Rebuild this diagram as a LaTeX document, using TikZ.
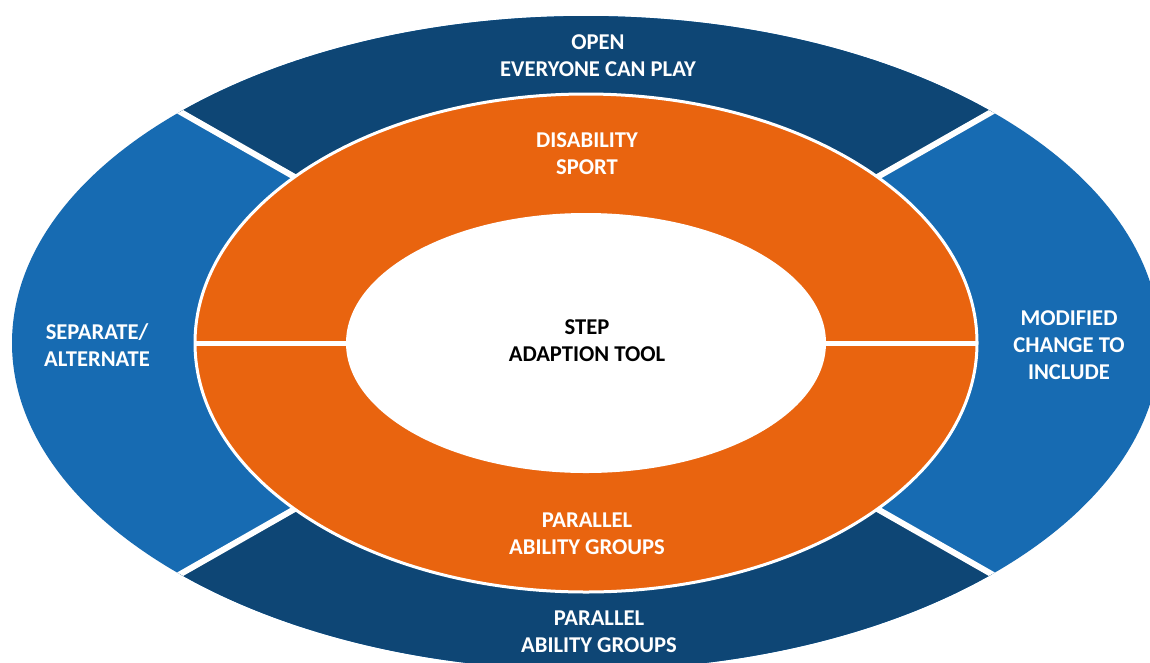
\documentclass[tikz,border=0pt]{standalone}
\usepackage{fontspec}
\setmainfont{Carlito}
\definecolor{ringdark}{HTML}{0E4675}
\definecolor{ringmid}{HTML}{176BB2}
\definecolor{ringorange}{HTML}{E9640F}
\tikzset{
  lbl/.style={align=center, inner sep=0pt, text=white,
              font=\bfseries\fontsize{22.6}{26.8}\selectfont},
  lbldark/.style={lbl, text=black},
  gap/.style={draw=white, line width=6pt},
}
\begin{document}
\begin{tikzpicture}[x=1pt,y=-1pt]
  \clip (0,0) rectangle (1150,662);
  \fill[white] (0,0) rectangle (1150,662);
  \coordinate (c) at (586,343);
  % outer ring: side segments
  \fill[ringmid] (c) ellipse [x radius=574pt, y radius=327pt];
  % top and bottom segments
  \begin{scope}
    \clip (c) ellipse [x radius=574pt, y radius=327pt];
    \fill[ringdark] (c) -- (-246,-131) -- (1418,-131) -- cycle;
    \fill[ringdark] (c) -- (-246,817) -- (1418,817) -- cycle;
    \draw[gap] (-246,-131) -- (1418,817);
    \draw[gap] (1418,-131) -- (-246,817);
  \end{scope}
  % middle ring, split into upper and lower halves
  \fill[ringorange] (c) ellipse [x radius=391pt, y radius=249pt];
  \begin{scope}
    \clip (c) ellipse [x radius=391pt, y radius=249pt];
    \draw[draw=white, line width=5pt] (180,343) -- (990,343);
  \end{scope}
  \draw[white, line width=3pt] (c) ellipse [x radius=391pt, y radius=249pt];
  % centre
  \fill[white] (c) ellipse [x radius=240pt, y radius=130pt];
  % labels
  \node[lbl] (open) at (598,56) {OPEN\\EVERYONE CAN PLAY};
  \node[lbl] (dis) at (587,154) {DISABILITY\\SPORT};
  \node[lbldark] (step) at (587,341) {STEP\\ADAPTION TOOL};
  \node[lbl] (sep) at (97,345) {SEPARATE/\\ALTERNATE};
  \node[lbl] (mod) at (1069,345) {MODIFIED\\CHANGE TO\\INCLUDE};
  \node[lbl] (par) at (587,534) {PARALLEL\\ABILITY GROUPS};
  \node[lbl] (abl) at (599,632) {PARALLEL\\ABILITY GROUPS};
\end{tikzpicture}
\end{document}
